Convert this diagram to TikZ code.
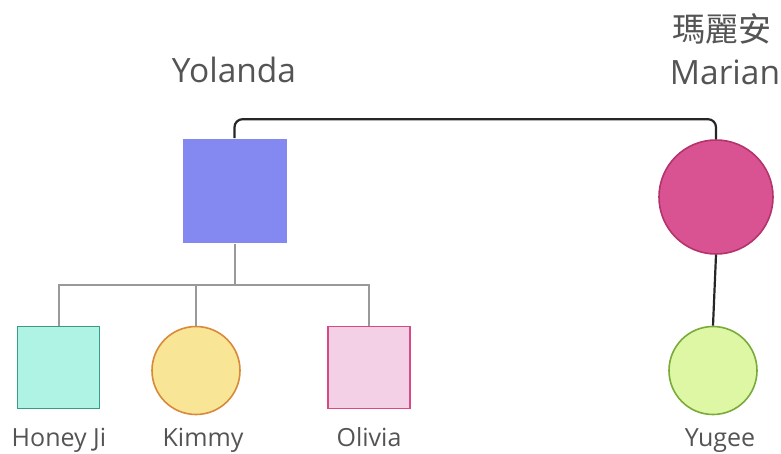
\documentclass[tikz,border=0pt]{standalone}
\usepackage{fontspec}
\setmainfont{Open Sans}
\newfontfamily\cjk{Noto Sans CJK TC}
\begin{document}
\begin{tikzpicture}[x=1pt,y=-1pt,
  lbl/.style={text=black!67, inner sep=0pt, anchor=base},
  biglbl/.style={lbl, font=\fontsize{33.5}{38}\selectfont},
  smalllbl/.style={lbl, font=\fontsize{25}{30}\selectfont},
  sq/.style={rectangle, minimum size=#1, inner sep=0pt, line width=1.6pt},
  circ/.style={circle, minimum size=#1, inner sep=0pt, line width=1.6pt},
  kid/.style={draw=black!40, line width=2pt},
  link/.style={draw=black!85, line width=2.2pt, rounded corners=8pt}]
\useasboundingbox (0,0) rectangle (781,453);
% nodes
\node[sq=104pt, fill={rgb,255:red,131;green,137;blue,241}] (yol) at (234.5,191) {};
\node[circ=114pt, fill={rgb,255:red,217;green,83;blue,147}, draw={rgb,255:red,181;green,51;blue,107}] (mar) at (716,197) {};
\node[sq=82pt, fill={rgb,255:red,174;green,243;blue,227}, draw={rgb,255:red,58;green,154;blue,136}] (hon) at (58.5,367.5) {};
\node[circ=88pt, fill={rgb,255:red,249;green,229;blue,150}, draw={rgb,255:red,217;green,137;blue,58}] (kim) at (196,370.5) {};
\node[sq=82pt, fill={rgb,255:red,243;green,208;blue,230}, draw={rgb,255:red,217;green,74;blue,132}] (oli) at (369,367.5) {};
\node[circ=88pt, fill={rgb,255:red,221;green,247;blue,164}, draw={rgb,255:red,122;green,170;blue,58}] (yug) at (713,370.5) {};
% labels
\node[biglbl] (tyol) at (234,82) {Yolanda};
\node[lbl, font=\cjk\fontsize{33}{38}\selectfont] (tmarc) at (722,41) {瑪麗安};
\node[biglbl] (tmar) at (725,84) {Marian};
\node[smalllbl] (thon) at (59,446) {Honey Ji};
\node[smalllbl] (tkim) at (203,446) {Kimmy};
\node[smalllbl] (toli) at (369,446) {Olivia};
\node[smalllbl] (tyug) at (720,446) {Yugee};
% connectors
\coordinate (bar) at (234.5,285);
\draw[link] (yol.north) -- ++(0,-19) -| (mar.north);
\draw[link] (mar.south) -- (yug.north);
\draw[kid] (yol.south) -- (bar);
\draw[kid] (hon.north) |- (bar) -| (oli.north);
\draw[kid] (kim.north) -- (kim.north |- bar);
\end{tikzpicture}
\end{document}
